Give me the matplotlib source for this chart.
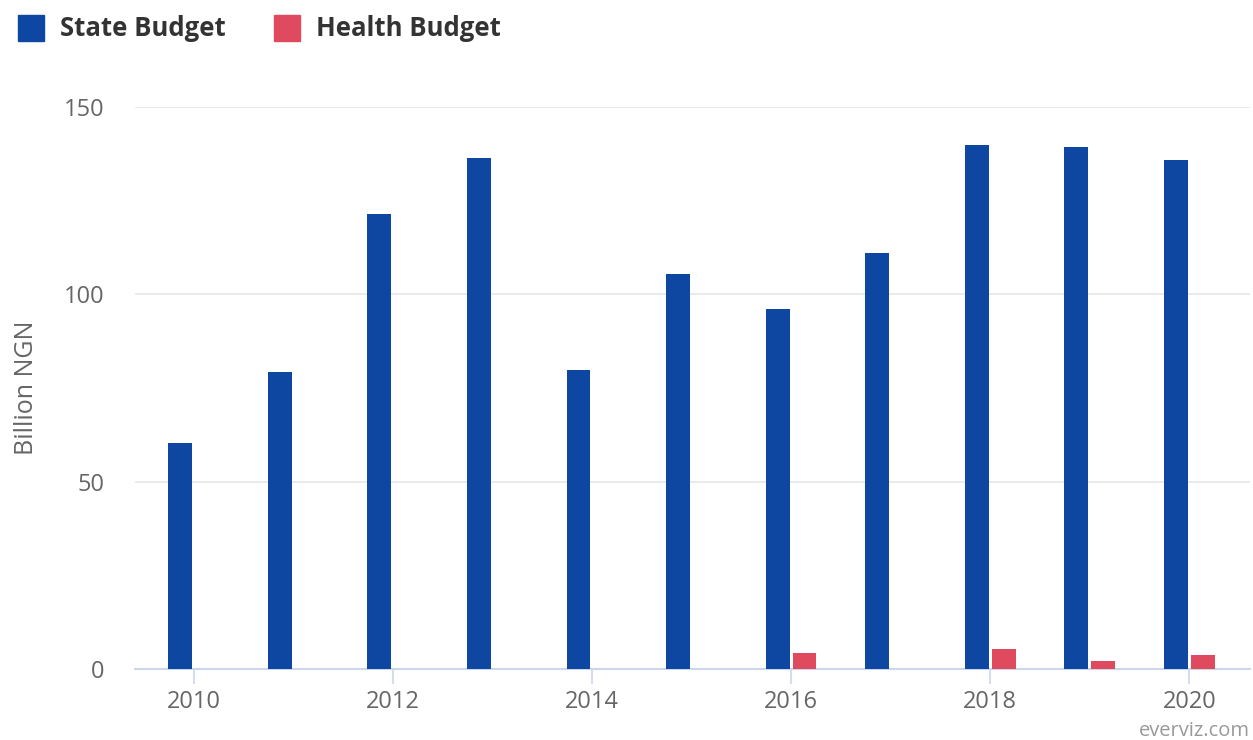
import numpy as np
import matplotlib.pyplot as plt
from matplotlib.lines import Line2D

# budget data, billion NGN
years = [2010, 2011, 2012, 2013, 2014, 2015, 2016, 2017, 2018, 2019, 2020]
state_budget = [60.3, 79.3, 121.4, 136.4, 79.8, 105.4, 96.1, 111.0, 139.8, 139.3, 135.8]
health_budget = [0, 0, 0, 0, 0, 0, 4.3, 0, 5.3, 2.1, 3.7]

state_color = "#0d47a1"
health_color = "#e04a5f"

plt.rcParams['font.family'] = ['Open Sans', 'DejaVu Sans']

fig = plt.figure(figsize=(12.53, 7.4), dpi=100)
ax = fig.add_axes([135 / 1253, 1 - 669 / 740, (1250 - 135) / 1253, (669 - 107) / 740])

x = np.array(years, dtype=float)
w = 0.24
ax.bar(x - w / 2 - 0.015, state_budget, width=w, color=state_color, zorder=3)
ax.bar(x + w / 2 + 0.015, health_budget, width=w, color=health_color, zorder=3)

ax.set_xlim(2009.41, 2020.61)
ax.set_ylim(0, 150)
ax.set_yticks([0, 50, 100, 150])
ax.set_xticks(range(2010, 2021, 2))

ax.grid(axis='y', color='#e6e6e6', linewidth=1.2, zorder=0)
for s in ['top', 'right', 'left']:
    ax.spines[s].set_visible(False)
ax.spines['bottom'].set_color('#ccd6eb')
ax.spines['bottom'].set_linewidth(1.5)
ax.tick_params(axis='y', length=0, pad=22, labelsize=17, labelcolor='#666666')
ax.tick_params(axis='x', length=11, width=1.2, color='#ccd6eb', pad=4,
               labelsize=17, labelcolor='#666666')
ax.set_ylabel("Billion NGN", fontsize=18, color='#666666', labelpad=18)

handles = [
    Line2D([], [], marker='s', linestyle='none', markersize=19,
           markerfacecolor=state_color, markeredgecolor=state_color),
    Line2D([], [], marker='s', linestyle='none', markersize=19,
           markerfacecolor=health_color, markeredgecolor=health_color),
]
leg = fig.legend(handles, ["State Budget", "Health Budget"], ncol=2,
                 loc='center left', bbox_to_anchor=(18 / 1253, 1 - 29 / 740),
                 frameon=False, borderpad=0, borderaxespad=0,
                 handlelength=1.0, handletextpad=0.65, columnspacing=1.85,
                 prop={'weight': 'bold', 'size': 18.5})
for t in leg.get_texts():
    t.set_color('#333333')

fig.text(1250 / 1253, 1 - 731 / 740, "everviz.com", ha='right', va='center',
         fontsize=14.5, color='#999999')

fig.savefig("out.png", dpi=100)
